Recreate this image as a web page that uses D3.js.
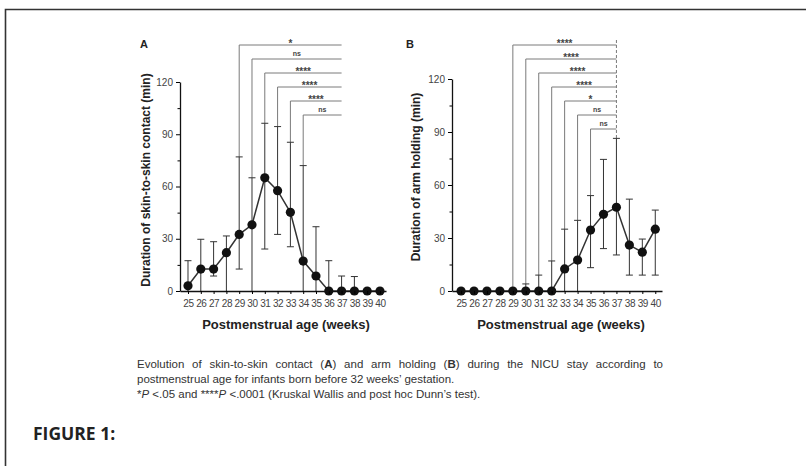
<!DOCTYPE html>
<html>
<head>
<meta charset="utf-8">
<script src="https://cdn.jsdelivr.net/npm/d3@7"></script>
<style>
  body { margin: 0; background: #fff; }
  svg { display: block; font-family: "Liberation Sans", Arial, sans-serif; }
</style>
</head>
<body>
<svg id="fig" width="806" height="466"></svg>
<script>
const weeks = [25, 26, 27, 28, 29, 30, 31, 32, 33, 34, 35, 36, 37, 38, 39, 40];
const yTicks = [0, 30, 60, 90, 120];
const yMinorTicks = [15, 45, 75, 105];

// panel A: skin-to-skin contact (min)
const skinMean = [3, 12.6, 12.6, 22, 32.5, 38, 65, 57.6, 45.2, 17.2, 8.6, 0, 0, 0, 0, 0];
const skinUpper = [17.4, 29.7, 28.3, 31.6, 77, 65, 96.3, 94.4, 85.4, 72, 36.9, 17.4, 8.6, 8.3, null, null];
const skinLower = [0, 0, 8.6, 0, 12.6, 0, 24.1, 32.5, 25.4, 0, 0, 0, 0, 0, null, null];
const skinBracketFrom = [29, 30, 31, 32, 33, 34];
const skinBracketSig = ["*", "ns", "****", "****", "****", "ns"];

// panel B: arm holding (min)
const armMean = [0, 0, 0, 0, 0, 0, 0, 0, 12.5, 17.5, 34.5, 43.4, 47.4, 26, 22, 35];
const armUpper = [null, null, null, null, null, 4, 9, 17, 35, 40, 54, 74.5, 86.4, 52, 29.4, 45.8];
const armLower = [null, null, null, null, null, 0, 0, 0, 0, 0, 13.2, 24, 20.4, 9, 9, 9];
const armBracketFrom = [29, 30, 31, 32, 33, 34, 35];
const armBracketSig = ["****", "****", "****", "****", "*", "ns", "ns"];

const bracketTo = 37;

const svg = d3.select("#fig");

// page frame
svg.append("path")
  .attr("d", "M806,9.5H5.5V466")
  .attr("fill", "none")
  .attr("stroke", "#333")
  .attr("stroke-width", 1.6);

drawPanel({
  letter: "A", letterX: 140,
  xRange: [180, 386], xDomain: [24.375, 40.47],
  yRange: [291, 82],
  mean: skinMean, upper: skinUpper, lower: skinLower,
  bracketFrom: skinBracketFrom, bracketSig: skinBracketSig, rightLeg: false,
  yTitle: "Duration of skin-to-skin contact (min)", yTitleX: 150, yTitleY: 180,
  xTitleX: 286
});

drawPanel({
  letter: "B", letterX: 406,
  xRange: [452, 662], xDomain: [24.3, 40.52],
  yRange: [291, 79],
  mean: armMean, upper: armUpper, lower: armLower,
  bracketFrom: armBracketFrom, bracketSig: armBracketSig, rightLeg: true,
  yTitle: "Duration of arm holding (min)", yTitleX: 420, yTitleY: 177,
  xTitleX: 561
});

function drawPanel(cfg) {
  const x = d3.scaleLinear().domain(cfg.xDomain).range(cfg.xRange);
  const y = d3.scaleLinear().domain([0, 120]).range(cfg.yRange);
  const g = svg.append("g");
  const rows = weeks.map((w, i) => ({ w, m: cfg.mean[i], hi: cfg.upper[i], lo: cfg.lower[i] }));
  const byWeek = new Map(rows.map((d) => [d.w, d]));

  // significance brackets
  const br = g.append("g").attr("stroke", "#7a7a7a").attr("stroke-width", 1).attr("fill", "none");
  cfg.bracketFrom.forEach((from, i) => {
    const ly = 45 + i * 14;
    const d = byWeek.get(from);
    const legEnd = y(d.hi != null ? d.hi : d.m);
    br.append("path")
      .attr("d", `M${x(from)},${legEnd}V${ly}H${x(bracketTo)}`);
    const isStar = cfg.bracketSig[i] !== "ns";
    g.append("text")
      .attr("x", (x(from) + x(bracketTo)) / 2)
      .attr("y", isStar ? ly + 1.5 : ly - 3)
      .attr("text-anchor", "middle")
      .attr("font-size", isStar ? 10 : 7)
      .attr("font-weight", "bold")
      .attr("fill", "#444")
      .text(cfg.bracketSig[i]);
  });
  if (cfg.rightLeg) {
    const d = byWeek.get(bracketTo);
    br.append("line")
      .attr("x1", x(bracketTo)).attr("x2", x(bracketTo))
      .attr("y1", 40).attr("y2", y(d.hi))
      .attr("stroke-dasharray", "3,2");
  }

  // error bars
  const eb = g.append("g").attr("stroke", "#333").attr("stroke-width", 1);
  rows.filter((d) => d.hi != null).forEach((d) => {
    const cx = x(d.w);
    eb.append("line").attr("x1", cx).attr("x2", cx).attr("y1", y(d.lo)).attr("y2", y(d.hi));
    eb.append("line").attr("x1", cx - 3.5).attr("x2", cx + 3.5).attr("y1", y(d.hi)).attr("y2", y(d.hi));
    if (d.lo > 0) {
      eb.append("line").attr("x1", cx - 3.5).attr("x2", cx + 3.5).attr("y1", y(d.lo)).attr("y2", y(d.lo));
    }
  });

  // mean line and points
  g.append("path")
    .datum(rows)
    .attr("fill", "none")
    .attr("stroke", "#333")
    .attr("stroke-width", 1.5)
    .attr("d", d3.line().x((d) => x(d.w)).y((d) => y(d.m)));

  g.selectAll(".pt")
    .data(rows)
    .join("circle")
    .attr("class", "pt")
    .attr("cx", (d) => x(d.w))
    .attr("cy", (d) => y(d.m))
    .attr("r", 4.6)
    .attr("fill", "#111");

  // axes
  const yAxis = g.append("g")
    .attr("transform", `translate(${cfg.xRange[0]},0)`)
    .call(d3.axisLeft(y).tickValues(yTicks).tickSize(4).tickSizeOuter(0));
  g.append("g")
    .attr("transform", `translate(${cfg.xRange[0]},0)`)
    .call(d3.axisLeft(y).tickValues(yMinorTicks).tickSize(2.5).tickFormat(""))
    .select(".domain").remove();
  const xAxis = g.append("g")
    .attr("transform", `translate(0,${cfg.yRange[0]})`)
    .call(d3.axisBottom(x).tickValues(weeks).tickSize(3).tickSizeOuter(0));

  [yAxis, xAxis].forEach((a) => {
    a.select(".domain").attr("stroke", "#111").attr("stroke-width", 1.3);
    a.selectAll("text").attr("font-family", "'Liberation Sans', Arial, sans-serif")
      .attr("font-size", 10).attr("fill", "#444");
  });
  xAxis.selectAll("text").attr("letter-spacing", -0.4).attr("dy", "0.95em");

  // titles
  g.append("text")
    .attr("x", cfg.letterX).attr("y", 48)
    .attr("font-size", 11).attr("font-weight", "bold").attr("fill", "#222")
    .text(cfg.letter);

  g.append("text")
    .attr("transform", `translate(${cfg.yTitleX},${cfg.yTitleY}) rotate(-90)`)
    .attr("text-anchor", "middle")
    .attr("font-size", 12).attr("font-weight", "bold").attr("fill", "#222")
    .text(cfg.yTitle);

  g.append("text")
    .attr("x", cfg.xTitleX).attr("y", 329)
    .attr("text-anchor", "middle")
    .attr("font-size", 13).attr("font-weight", "bold").attr("fill", "#222")
    .text("Postmenstrual age (weeks)");
}

// caption
const cap = svg.append("g").attr("font-size", 11.5).attr("fill", "#333");
const l1 = cap.append("text").attr("x", 137).attr("y", 368);
l1.append("tspan").text("Evolution of skin-to-skin contact (");
l1.append("tspan").attr("font-weight", "bold").text("A");
l1.append("tspan").text(") and arm holding (");
l1.append("tspan").attr("font-weight", "bold").text("B");
l1.append("tspan").text(") during the NICU stay according to");
// justify the first line by widening word gaps
const l1Len = l1.node().getComputedTextLength();
const l1Gaps = l1.text().split(" ").length - 1;
l1.attr("word-spacing", Math.max(0, (526 - l1Len) / l1Gaps));

cap.append("text").attr("x", 137).attr("y", 383)
  .text("postmenstrual age for infants born before 32 weeks\u2019 gestation.");

const l3 = cap.append("text").attr("x", 137).attr("y", 398);
l3.append("tspan").text("*");
l3.append("tspan").attr("font-style", "italic").text("P");
l3.append("tspan").text(" <.05 and ****");
l3.append("tspan").attr("font-style", "italic").text("P");
l3.append("tspan").text(" <.0001 (Kruskal Wallis and post hoc Dunn\u2019s test).");

svg.append("text")
  .attr("x", 33).attr("y", 440)
  .attr("font-family", "'Open Sans', sans-serif")
  .attr("font-size", 17.5).attr("font-weight", "bold").attr("fill", "#222")
  .text("FIGURE 1:");
</script>
</body>
</html>
